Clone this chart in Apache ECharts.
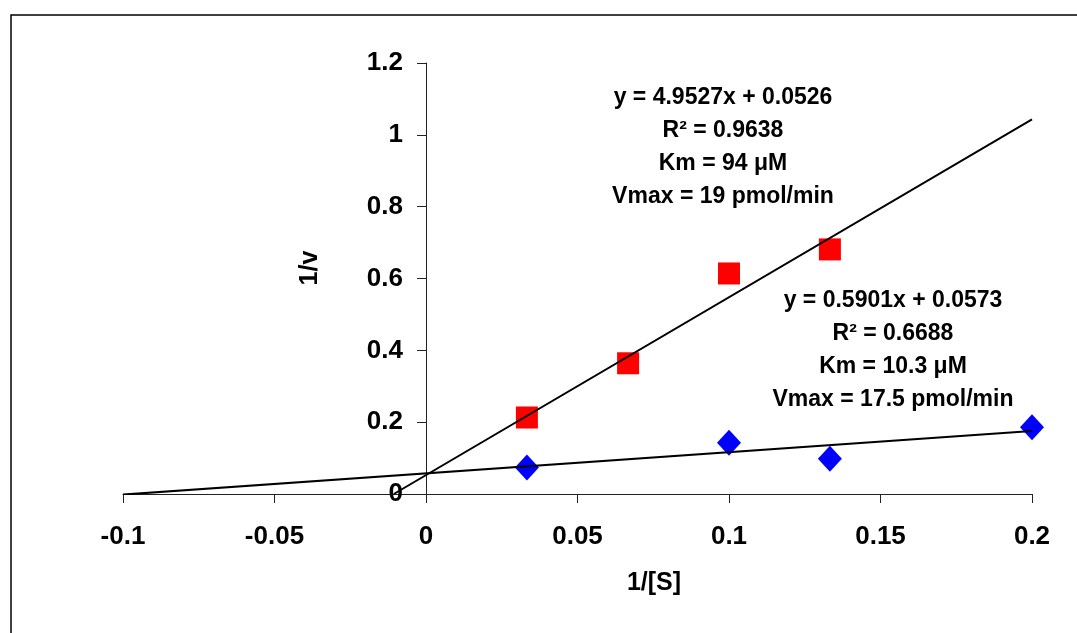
<!DOCTYPE html>
<html>
<head>
<meta charset="utf-8">
<style>
  html, body { margin: 0; padding: 0; background: #fff; }
  #chart { width: 1077px; height: 633px; }
</style>
<script src="https://cdn.jsdelivr.net/npm/echarts@6/dist/echarts.min.js"></script>
</head>
<body>
<div id="chart"></div>
<script>
// measured points (1/[S], 1/v)
const redX = [0.0333, 0.0667, 0.1, 0.1333];
const redY = [0.213, 0.364, 0.614, 0.681];
const blueX = [0.0333, 0.1, 0.1333, 0.2];
const blueY = [0.074, 0.143, 0.098, 0.186];

// trendline coefficients [slope, intercept]
const redFit = [4.9527, 0.0526];
const blueFit = [0.5901, 0.0573];

const redLabel = ['y = 4.9527x + 0.0526', 'R² = 0.9638', 'Km = 94 μM', 'Vmax = 19 pmol/min'];
const blueLabel = ['y = 0.5901x + 0.0573', 'R² = 0.6688', 'Km = 10.3 μM', 'Vmax = 17.5 pmol/min'];

const chartDom = document.getElementById('chart');
const chart = echarts.init(chartDom);

const font = 'Liberation Sans, Arial, sans-serif';

function fitLine(fit, x0, x1) {
  return [[x0, fit[0] * x0 + fit[1]], [x1, fit[0] * x1 + fit[1]]];
}

// red trendline is drawn back to where it meets the x axis
const redStart = -redFit[1] / redFit[0];

function labelBlock(lines, cx, top) {
  return lines.map((t, i) => ({
    type: 'text',
    x: cx,
    y: top + i * 33,
    style: {
      text: t,
      fill: '#000',
      font: 'bold 23px ' + font,
      textAlign: 'center',
      textVerticalAlign: 'middle'
    }
  }));
}

chart.setOption({
  animation: false,
  grid: {
    left: 123,
    right: 45,
    top: 63,
    bottom: 139
  },
  xAxis: {
    type: 'value',
    min: -0.1,
    max: 0.2,
    interval: 0.05,
    splitLine: { show: false },
    axisLine: { onZero: true, lineStyle: { color: '#222', width: 1 } },
    axisTick: { show: true, length: 9, lineStyle: { color: '#222' } },
    axisLabel: {
      margin: 30,
      color: '#000',
      fontSize: 26,
      fontWeight: 'bold',
      fontFamily: font
    }
  },
  yAxis: {
    type: 'value',
    min: 0,
    max: 1.2,
    interval: 0.2,
    // shift the axis from the grid edge over to x = 0
    offset: -303,
    splitLine: { show: false },
    axisLine: { show: true, onZero: false, lineStyle: { color: '#222', width: 1 } },
    axisTick: { show: true, length: 9, lineStyle: { color: '#222' } },
    axisLabel: {
      margin: 23,
      color: '#000',
      fontSize: 26,
      fontWeight: 'bold',
      fontFamily: font
    }
  },
  graphic: [
    {
      type: 'rect',
      shape: { x: 11, y: 15, width: 1100, height: 700 },
      style: { fill: 'none', stroke: '#000', lineWidth: 1.5 }
    },
    {
      type: 'text',
      x: 654,
      y: 583,
      style: {
        text: '1/[S]',
        fill: '#000',
        font: 'bold 25px ' + font,
        textAlign: 'center',
        textVerticalAlign: 'middle'
      }
    },
    {
      type: 'text',
      x: 310,
      y: 268,
      rotation: Math.PI / 2,
      style: {
        text: '1/v',
        fill: '#000',
        font: 'bold 25px ' + font,
        textAlign: 'center',
        textVerticalAlign: 'middle'
      }
    },
    ...labelBlock(redLabel, 723, 98),
    ...labelBlock(blueLabel, 893, 301)
  ],
  series: [
    {
      type: 'line',
      data: fitLine(redFit, redStart, 0.2),
      symbol: 'none',
      lineStyle: { color: '#000', width: 2 },
      z: 3
    },
    {
      type: 'line',
      data: fitLine(blueFit, -0.1, 0.2),
      symbol: 'none',
      lineStyle: { color: '#000', width: 2 },
      z: 3
    },
    {
      type: 'scatter',
      data: redX.map((x, i) => [x, redY[i]]),
      symbol: 'rect',
      symbolSize: 22,
      itemStyle: { color: '#ff0000', opacity: 1 },
      z: 2
    },
    {
      type: 'scatter',
      data: blueX.map((x, i) => [x, blueY[i]]),
      symbol: 'diamond',
      symbolSize: [24, 26],
      itemStyle: { color: '#0000ff', opacity: 1 },
      z: 2
    }
  ]
});

window.addEventListener('resize', () => {
  chart.resize();
});
</script>
</body>
</html>
